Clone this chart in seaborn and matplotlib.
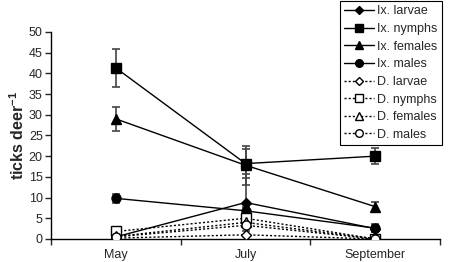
import numpy as np
import pandas as pd
import seaborn as sns
import matplotlib
matplotlib.use("Agg")
import matplotlib.pyplot as plt

months = ["May", "July", "September"]
series = ["Ix. larvae", "Ix. nymphs", "Ix. females", "Ix. males",
          "D. larvae", "D. nymphs", "D. females", "D. males"]

ix_larvae = [0.5, 8.8, 2.5]
ix_nymphs = [41.3, 18.2, 20.0]
ix_females = [29.0, 17.8, 7.8]
ix_males = [9.8, 6.8, 2.6]
d_larvae = [0.2, 1.0, 0.0]
d_nymphs = [1.8, 5.0, 0.0]
d_females = [0.6, 4.0, 0.0]
d_males = [0.5, 3.3, 0.0]

ix_larvae_err = [0.3, 7.0, 0.8]
ix_nymphs_err = [4.6, 3.5, 2.0]
ix_females_err = [2.9, 4.7, 1.2]
ix_males_err = [1.0, 1.0, 1.0]

values = [ix_larvae, ix_nymphs, ix_females, ix_males,
          d_larvae, d_nymphs, d_females, d_males]
errors = [ix_larvae_err, ix_nymphs_err, ix_females_err, ix_males_err,
          None, None, None, None]

df = pd.DataFrame([(s, i, v) for s, vals in zip(series, values)
                   for i, v in enumerate(vals)],
                  columns=["series", "month", "ticks"])

markers = ["D", "s", "^", "o", "D", "s", "^", "o"]
msizes = [5, 6.5, 6.5, 6.5, 5, 6.5, 6.5, 6.5]

sns.set_style("ticks")
plt.rcParams["font.family"] = ["Liberation Sans", "DejaVu Sans"]
plt.rcParams["mathtext.fontset"] = "custom"
plt.rcParams["mathtext.bf"] = "Liberation Sans:bold"
plt.rcParams["mathtext.rm"] = "Liberation Sans"

fig = plt.figure(figsize=(4.56, 2.62), dpi=100)
ax = fig.add_axes([0.112, 0.088, 0.853, 0.79])

for k, name in enumerate(series):
    sub = df[df["series"] == name]
    solid = name.startswith("Ix")
    if errors[k] is not None:
        ax.errorbar(sub["month"], sub["ticks"], yerr=errors[k], fmt="none",
                    ecolor="#444444", elinewidth=1.2, capsize=3, capthick=1.2,
                    zorder=2)
    sns.lineplot(data=sub, x="month", y="ticks", ax=ax, color="black",
                 marker=markers[k], markersize=msizes[k],
                 markerfacecolor="black" if solid else "white",
                 markeredgecolor="black", markeredgewidth=1,
                 linestyle="-" if solid else (0, (1.5, 1.5)),
                 linewidth=1, label=name, zorder=3)

ax.set_xlim(-0.5, 2.5)
ax.set_ylim(0, 50)
ax.set_yticks(range(0, 51, 5))
ax.set_xticks([0, 1, 2])
ax.set_xticklabels(months)
ax.set_xticks([-0.5, 0.5, 1.5, 2.5], minor=True)
ax.tick_params(axis="x", which="major", length=0, labelsize=9, pad=7)
ax.tick_params(axis="x", which="minor", length=4, width=1, direction="out")
ax.tick_params(axis="y", length=4, width=1, labelsize=9, pad=2)
ax.set_xlabel("")
ax.set_ylabel(r"ticks deer$^{\mathbf{-1}}$", fontsize=11.5, fontweight="bold",
              labelpad=1)
sns.despine(ax=ax)
for sp in ["left", "bottom"]:
    ax.spines[sp].set_linewidth(1)
    ax.spines[sp].set_color("black")

leg = ax.legend(loc="upper right", bbox_to_anchor=(442 / 456, 1 - 1 / 262),
                bbox_transform=fig.transFigure, fontsize=9, frameon=True,
                fancybox=False, edgecolor="black", framealpha=1,
                handlelength=2.4, labelspacing=0.45, borderpad=0.35,
                handletextpad=0.25, borderaxespad=0)
leg.get_frame().set_linewidth(0.8)
for h, m in zip(leg.legend_handles, markers):
    h.set_markersize(4.5 if m == "D" else 5.5)

fig.savefig("out.png", dpi=100)
